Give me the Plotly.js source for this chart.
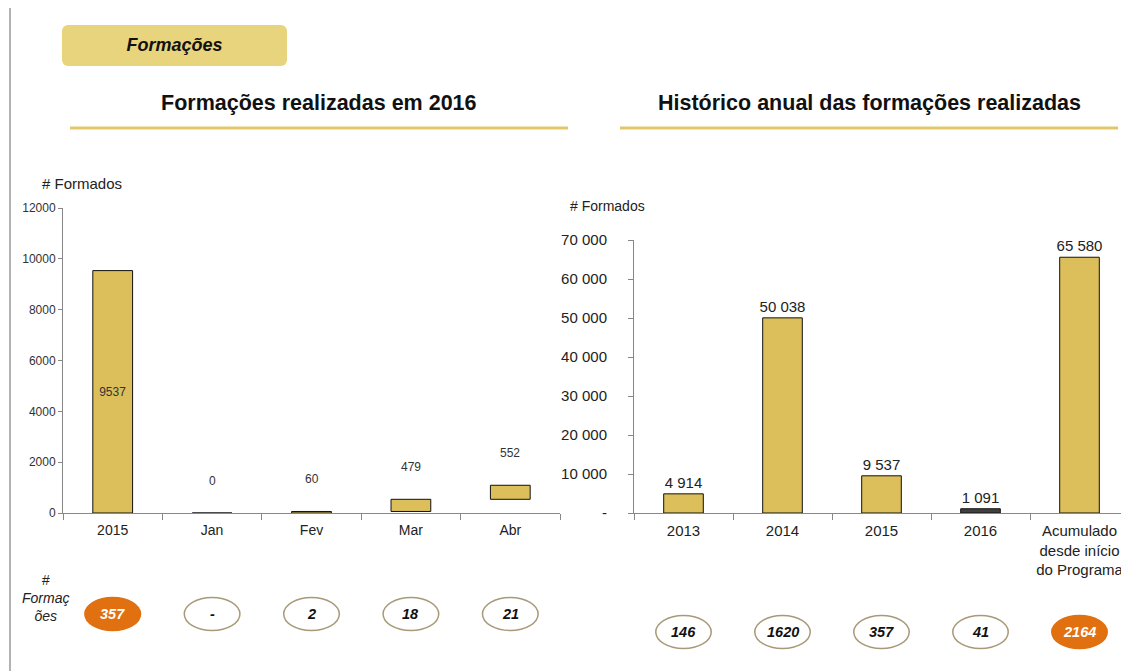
<!DOCTYPE html>
<html>
<head>
<meta charset="utf-8">
<script src="https://cdn.plot.ly/plotly-3.0.1.min.js"></script>
<style>
  body { margin: 0; overflow: hidden; background: white; font-family: Arial, "Liberation Sans", sans-serif; }
  #chart { position: absolute; left: 0; top: 0; width: 1150px; height: 671px; }
  #tag {
    position: absolute; left: 62px; top: 25px; width: 225px; height: 41px;
    background: #e8d47c; border-radius: 6px;
    font: italic bold 18px Arial, "Liberation Sans", sans-serif; color: #111;
    display: flex; align-items: center; justify-content: center;
  }
</style>
</head>
<body>
<div id="chart"></div>
<div id="tag">Formações</div>
<script>
// left panel: 2015 total, then 2016 months stacked as a waterfall
const leftCats = ["2015", "Jan", "Fev", "Mar", "Abr"];
const leftValues = [9537, 0, 60, 479, 552];
const leftCourses = [357, null, 2, 18, 21];

// right panel: yearly history
const rightCats = ["2013", "2014", "2015", "2016", "Acumulado<br>desde início<br>do Programa"];
const rightValues = [4914, 50038, 9537, 1091, 65580];
const rightCourses = [146, 1620, 357, 41, 2164];

const rightTickVals = [0, 10000, 20000, 30000, 40000, 50000, 60000, 70000];
const rightTickText = ["-", "10 000", "20 000", "30 000", "40 000", "50 000", "60 000", "70 000"];

const W = 1150, H = 671;
const px = (x) => x / W;
const py = (y) => 1 - y / H;

const GOLD = "#dcbf5a";
const DARK = "#404040";
const ORANGE = "#e07010";
const FONT = "Arial, Liberation Sans, sans-serif";

// waterfall bases: 2015 starts at 0, months accumulate
let running = 0;
const leftBase = leftValues.map((v, i) => {
  if (i === 0) return 0;
  const b = running;
  running += v;
  return b;
});

const leftTrace = {
  type: "bar",
  x: leftCats,
  y: leftValues,
  base: leftBase,
  width: 0.4,
  marker: { color: GOLD, line: { color: "#111", width: 1 } },
  text: leftValues.map((v, i) => (i === 0 ? String(v) : "")),
  textposition: leftValues.map((v, i) => (i === 0 ? "inside" : "none")),
  insidetextanchor: "middle",
  constraintext: "none",
  insidetextfont: { family: FONT, size: 12, color: "#333" },
  xaxis: "x",
  yaxis: "y",
  hoverinfo: "x+y"
};

const rightTrace = {
  type: "bar",
  x: rightCats,
  y: rightValues,
  width: 0.4,
  marker: {
    color: rightCats.map((c) => (c === "2016" ? DARK : GOLD)),
    line: { color: "#111", width: 1 }
  },
  texttemplate: "%{y:,.0f}",
  textposition: "outside",
  constraintext: "none",
  outsidetextfont: { family: FONT, size: 15, color: "#222" },
  cliponaxis: false,
  xaxis: "x2",
  yaxis: "y2",
  hoverinfo: "x+y"
};

const annotations = [];
const shapes = [];

// labels above the month bars
leftValues.forEach((v, i) => {
  if (i === 0) return;
  annotations.push({
    x: i, y: leftBase[i] + v, xref: "x", yref: "y",
    xanchor: "center", yanchor: "middle",
    text: String(v), showarrow: false, yshift: 32,
    font: { family: FONT, size: 12, color: "#333" }
  });
});

// course-count ellipses
function addCourses(counts, xref, yc, highlight) {
  counts.forEach((c, i) => {
    const hot = i === highlight;
    shapes.push({
      type: "circle", xref: xref, yref: "paper",
      x0: i - 0.28, x1: i + 0.28,
      y0: py(yc + 16.5), y1: py(yc - 16.5),
      fillcolor: hot ? ORANGE : "white",
      line: { color: hot ? ORANGE : "#a89a78", width: 1.5 }
    });
    annotations.push({
      x: i, y: py(yc), xref: xref, yref: "paper",
      xanchor: "center", yanchor: "middle",
      text: c === null ? "-" : String(c), showarrow: false,
      font: { family: FONT, size: 14.5, color: hot ? "white" : "#111", weight: "bold", style: "italic" }
    });
  });
}
addCourses(leftCourses, "x", 614, 0);
addCourses(rightCourses, "x2", 632, rightCourses.length - 1);

function paperText(x, y, text, font, xanchor) {
  annotations.push({
    xref: "paper", yref: "paper", x: px(x), y: py(y),
    xanchor: xanchor || "center", yanchor: "middle",
    text: text, showarrow: false, align: "center", font: font
  });
}
paperText(319, 103, "Formações realizadas em 2016", { family: FONT, size: 21.5, color: "#111", weight: "bold" });
paperText(869, 103, "Histórico anual das formações realizadas", { family: FONT, size: 21.5, color: "#111", weight: "bold" });
paperText(40, 183, "# Formados", { family: FONT, size: 15, color: "#222" }, "left");
paperText(568, 206, "# Formados", { family: FONT, size: 14, color: "#222" }, "left");
paperText(45, 598, "#<br>Formaç<br>ões", { family: FONT, size: 14, color: "#222", style: "italic" });

shapes.push(
  { type: "line", xref: "paper", yref: "paper", x0: px(70), x1: px(568), y0: py(128), y1: py(128),
    line: { color: "#e2c76a", width: 3 } },
  { type: "line", xref: "paper", yref: "paper", x0: px(620), x1: px(1118), y0: py(128), y1: py(128),
    line: { color: "#e2c76a", width: 3 } },
  { type: "line", xref: "paper", yref: "paper", x0: px(10), x1: px(10), y0: 0, y1: py(8),
    line: { color: "#999", width: 1.5 } }
);

const xCommon = {
  type: "category", showline: true, linecolor: "#888", ticks: "outside", tickson: "boundaries",
  ticklen: 6, tickcolor: "#888", showgrid: false, zeroline: false, range: [-0.5, 4.5], fixedrange: true,
  ticklabelstandoff: 4
};
const yCommon = {
  showline: true, linecolor: "#888", ticks: "outside", ticklen: 4, tickcolor: "#888",
  showgrid: false, zeroline: false, fixedrange: true
};

const layout = {
  width: W, height: H,
  margin: { l: 0, r: 0, t: 0, b: 0 },
  paper_bgcolor: "white", plot_bgcolor: "white",
  separators: ". ",
  showlegend: false,
  font: { family: FONT, color: "#222" },
  xaxis: Object.assign({}, xCommon, {
    domain: [px(63), px(560)], anchor: "y",
    tickfont: { family: FONT, size: 14, color: "#222" }
  }),
  yaxis: Object.assign({}, yCommon, {
    domain: [py(513), py(208)], anchor: "x", range: [0, 12000], dtick: 2000, tickformat: "d",
    tickfont: { family: FONT, size: 12, color: "#333" }
  }),
  xaxis2: Object.assign({}, xCommon, {
    domain: [px(634), px(1129)], anchor: "y2",
    tickfont: { family: FONT, size: 15, color: "#222" }
  }),
  yaxis2: Object.assign({}, yCommon, {
    domain: [py(513), py(240)], anchor: "x2", range: [0, 70000],
    tickvals: rightTickVals, ticktext: rightTickText, ticklen: 5,
    ticklabelstandoff: 18,
    tickfont: { family: FONT, size: 15, color: "#222" }
  }),
  annotations: annotations,
  shapes: shapes
};

Plotly.newPlot("chart", [leftTrace, rightTrace], layout, { displayModeBar: false, staticPlot: true });
</script>
</body>
</html>
